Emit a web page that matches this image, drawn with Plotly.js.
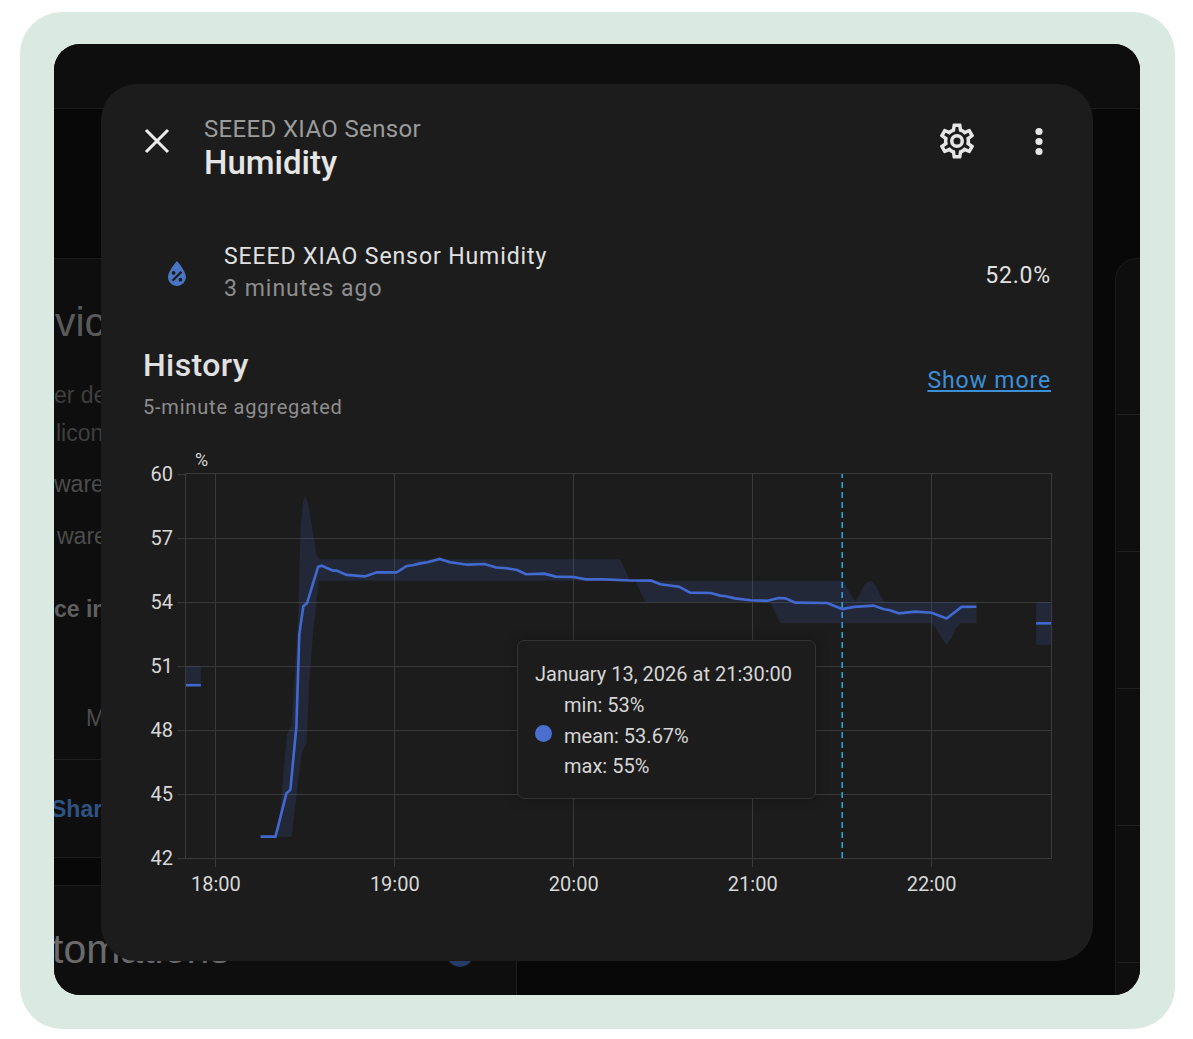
<!DOCTYPE html>
<html>
<head>
<meta charset="utf-8">
<script src="https://cdn.plot.ly/plotly-3.0.1.min.js"></script>
<style>
html,body{margin:0;padding:0;background:#fff;width:1193px;height:1039px;overflow:hidden;font-family:Roboto,sans-serif}
.abs{position:absolute;white-space:nowrap}
#outer{position:absolute;left:20px;top:12px;width:1155px;height:1017px;background:#dbe9e3;border-radius:42px}
#inner{position:absolute;left:54px;top:44px;width:1086px;height:951px;background:#080808;border-radius:26px;overflow:hidden}
.card{position:absolute;background:#0e0e0e;border:1px solid #1b1b1b;box-sizing:border-box}
.rule{position:absolute;background:#1f1f1f;height:1px}
.bg{position:absolute;white-space:nowrap;font-family:"Liberation Sans",Arial,sans-serif;line-height:1}
#dialog{position:absolute;left:101px;top:84px;width:992px;height:877px;background:#1c1c1c;border-radius:36px}
#chart{position:absolute;left:0;top:0;width:1193px;height:1039px}
#tip{position:absolute;left:517px;top:640px;width:299px;height:159px;box-sizing:border-box;background:#1c1c1c;border:1px solid #333;border-radius:7px;box-shadow:0 0 14px rgba(0,0,0,.28);color:#d6d6d6;font-size:20px}
#tip div{position:absolute;white-space:nowrap;line-height:1}
</style>
</head>
<body>
<div id="outer"></div>
<div id="inner">
  <div class="card" style="left:-2px;top:-2px;width:1090px;height:67px;border-width:0 0 1px 0"></div>
  <div class="card" style="left:-20px;top:214px;width:480px;height:600px"></div>
  <div class="rule" style="left:0;top:715px;width:460px"></div>
  <div class="card" style="left:-20px;top:841px;width:483px;height:140px"></div>
  <div class="card" style="left:1061px;top:214px;width:60px;height:760px;border-radius:22px 0 0 0"></div>
  <div class="rule" style="left:1063px;top:370px;width:23px"></div>
  <div class="rule" style="left:1063px;top:507px;width:23px"></div>
  <div class="rule" style="left:1063px;top:644px;width:23px"></div>
  <div class="rule" style="left:1063px;top:781px;width:23px"></div>
  <div class="rule" style="left:1063px;top:918px;width:23px"></div>
  <div class="bg" style="left:1px;top:258px;font-size:41px;color:#5a5a5a">vic</div>
  <div class="bg" style="left:0;top:340px;font-size:23px;color:#3f3f3f">er de</div>
  <div class="bg" style="left:2px;top:378px;font-size:23px;color:#3f3f3f">licon</div>
  <div class="bg" style="left:0;top:429px;font-size:23px;color:#4c4c4c">ware</div>
  <div class="bg" style="left:3px;top:481px;font-size:23px;color:#4c4c4c">ware</div>
  <div class="bg" style="left:0;top:554px;font-size:23px;font-weight:700;color:#5f5f5f">ce in</div>
  <div class="bg" style="left:32px;top:663px;font-size:23px;color:#4c4c4c">M</div>
  <div class="bg" style="left:-3px;top:754px;font-size:23px;font-weight:700;color:#2f5283">Share</div>
  <div class="bg" style="left:-2px;top:885px;font-size:41px;color:#6a6a6a">tomations</div>
  <div style="position:absolute;left:392px;top:893px;width:28px;height:30px;border-radius:50%;background:#263a66"></div>
  <div class="rule" style="left:462px;top:917px;width:1px;height:40px"></div>
</div>
<div id="dialog"></div>

<svg class="abs" style="left:141px;top:125px" width="32" height="32" viewBox="0 0 32 32"><path d="M5 5L27 27M27 5L5 27" stroke="#ececec" stroke-width="3.1" fill="none"/></svg>
<div class="abs" id="t1" style="left:204px;top:114px;font-size:24px;line-height:30px;letter-spacing:.35px;color:#9b9b9b">SEEED XIAO Sensor</div>
<div class="abs" id="t2" style="left:204px;top:143px;font-size:33px;line-height:40px;font-weight:500;color:#e6e6e6">Humidity</div>
<svg class="abs" style="left:936px;top:120px" width="42" height="42" viewBox="0 0 24 24"><path fill="#e6e6e6" d="M12,8A4,4 0 0,1 16,12A4,4 0 0,1 12,16A4,4 0 0,1 8,12A4,4 0 0,1 12,8M12,10A2,2 0 0,0 10,12A2,2 0 0,0 12,14A2,2 0 0,0 14,12A2,2 0 0,0 12,10M10,22C9.75,22 9.54,21.82 9.5,21.58L9.13,18.93C8.5,18.68 7.96,18.34 7.44,17.94L4.95,18.95C4.73,19.03 4.46,18.95 4.34,18.73L2.34,15.27C2.21,15.05 2.27,14.78 2.46,14.63L4.57,12.97L4.5,12L4.57,11L2.46,9.37C2.27,9.22 2.21,8.95 2.34,8.73L4.34,5.27C4.46,5.05 4.73,4.96 4.95,5.05L7.44,6.05C7.96,5.66 8.5,5.32 9.13,5.07L9.5,2.42C9.54,2.18 9.75,2 10,2H14C14.25,2 14.46,2.18 14.5,2.42L14.87,5.07C15.5,5.32 16.04,5.66 16.56,6.05L19.05,5.05C19.27,4.96 19.54,5.05 19.66,5.27L21.66,8.73C21.79,8.95 21.73,9.22 21.54,9.37L19.43,11L19.5,12L19.43,13L21.54,14.63C21.73,14.78 21.79,15.05 21.66,15.27L19.66,18.73C19.54,18.95 19.27,19.04 19.05,18.95L16.56,17.95C16.04,18.34 15.5,18.68 14.87,18.93L14.5,21.58C14.46,21.82 14.25,22 14,22H10M11.25,4L10.88,6.61C9.68,6.86 8.62,7.5 7.85,8.39L5.44,7.35L4.69,8.65L6.8,10.2C6.4,11.37 6.4,12.64 6.8,13.8L4.68,15.36L5.43,16.66L7.86,15.62C8.63,16.5 9.68,17.14 10.87,17.38L11.24,20H12.76L13.13,17.39C14.32,17.14 15.37,16.5 16.14,15.62L18.57,16.66L19.32,15.36L17.2,13.81C17.6,12.64 17.6,11.37 17.2,10.2L19.31,8.65L18.56,7.35L16.15,8.39C15.38,7.5 14.32,6.86 13.12,6.62L12.75,4H11.25Z"/></svg>
<svg class="abs" style="left:1029px;top:125px" width="20" height="34" viewBox="0 0 20 34"><circle cx="10" cy="6.5" r="3.6" fill="#e6e6e6"/><circle cx="10" cy="16.5" r="3.6" fill="#e6e6e6"/><circle cx="10" cy="26.5" r="3.6" fill="#e6e6e6"/></svg>
<svg class="abs" style="left:159px;top:256px" width="36" height="36" viewBox="0 0 24 24"><path fill="#4a74c4" d="M12,3.25C12,3.25 6,10 6,14C6,17.32 8.69,20 12,20A6,6 0 0,0 18,14C18,10 12,3.25 12,3.25M14.47,9.97L15.53,11.03L9.53,17.03L8.47,15.97M9.75,10A1.25,1.25 0 0,1 11,11.25A1.25,1.25 0 0,1 9.75,12.5A1.25,1.25 0 0,1 8.5,11.25A1.25,1.25 0 0,1 9.75,10M14.25,14.5A1.25,1.25 0 0,1 15.5,15.75A1.25,1.25 0 0,1 14.25,17A1.25,1.25 0 0,1 13,15.75A1.25,1.25 0 0,1 14.25,14.5Z"/></svg>
<div class="abs" id="t3" style="left:224px;top:242px;font-size:23px;line-height:30px;letter-spacing:.9px;color:#e1e1e1">SEEED XIAO Sensor Humidity</div>
<div class="abs" id="t4" style="left:224px;top:274px;font-size:23px;line-height:30px;letter-spacing:1px;color:#8e8e8e">3 minutes ago</div>
<div class="abs" id="t5" style="right:142px;top:261px;font-size:23px;line-height:30px;letter-spacing:.8px;color:#e1e1e1">52.0%</div>
<div class="abs" id="t6" style="left:143px;top:345px;font-size:32px;line-height:40px;font-weight:500;letter-spacing:.4px;color:#e1e1e1">History</div>
<div class="abs" id="t7" style="right:142px;top:366px;font-size:23px;line-height:30px;letter-spacing:.9px;color:#3d8fd6;text-decoration:underline">Show more</div>
<div class="abs" id="t8" style="left:143px;top:393px;font-size:20px;line-height:28px;letter-spacing:.8px;color:#8e8e8e">5-minute aggregated</div>

<div id="chart"></div>

<div id="tip">
  <div style="left:17px;top:23px">January 13, 2026 at 21:30:00</div>
  <div style="left:46px;top:54px">min: 53%</div>
  <div style="left:17px;top:84px;width:17px;height:17px;border-radius:50%;background:#4a6fd0"></div>
  <div style="left:46px;top:85px">mean: 53.67%</div>
  <div style="left:46px;top:115px">max: 55%</div>
</div>

<script>
// All values. Clock times on 2026-01-13, humidity in %.
const day = "2026-01-13 ";
const axisStart = "17:50:00";
const axisEnd = "22:40:00";
const yTicks = [42, 45, 48, 51, 54, 57, 60];
const xTicks = ["18:00:00", "19:00:00", "20:00:00", "21:00:00", "22:00:00"];
const xTickLabels = ["18:00", "19:00", "20:00", "21:00", "22:00"];
const hoverTime = "21:30:00";
const unitLabel = "%";

const leadTimes = ["17:50:00", "17:55:00"];
const leadMin = [50.1, 50.1];
const leadMean = [50.1, 50.1];
const leadMax = [51, 51];

const tailTimes = ["22:35:00", "22:40:00"];
const tailMin = [52, 52];
const tailMean = [53, 53];
const tailMax = [54, 54];

const mainMeanTimes = ["18:15:00","18:20:00","18:23:40","18:25:00","18:27:00","18:27:36","18:28:00","18:29:20","18:30:36","18:32:00","18:34:18","18:35:30","18:39:18","18:40:30","18:43:54","18:50:00","18:54:00","19:00:36","19:04:00","19:06:00","19:08:30","19:11:00","19:15:00","19:18:30","19:20:48","19:24:24","19:30:00","19:34:00","19:37:30","19:41:00","19:44:00","19:50:00","19:54:00","20:00:00","20:04:00","20:10:00","20:19:00","20:26:00","20:29:00","20:35:18","20:39:00","20:46:00","20:49:00","20:51:00","20:54:00","20:59:18","21:05:00","21:08:36","21:11:00","21:14:18","21:25:00","21:30:00","21:34:00","21:40:30","21:44:00","21:46:00","21:49:00","21:54:30","22:00:00","22:05:00","22:10:00","22:15:00"];
const mainMean = [43,43,45.03,45.2,48.15,51,52.5,53.8,53.95,54.6,55.65,55.7,55.47,55.47,55.27,55.2,55.39,55.39,55.69,55.72,55.81,55.86,56.02,55.86,55.83,55.75,55.78,55.62,55.58,55.5,55.3,55.33,55.19,55.17,55.06,55.06,55.01,55,54.83,54.72,54.44,54.42,54.3,54.27,54.17,54.08,54.06,54.19,54.17,53.97,53.95,53.67,53.77,53.83,53.66,53.61,53.47,53.55,53.5,53.23,53.77,53.78];

const mainMaxTimes = ["18:15:00","18:20:48","18:22:00","18:23:50","18:25:24","18:27:30","18:28:25","18:29:10","18:29:52","18:31:00","18:32:38","18:33:48","18:34:54","20:15:34","20:18:40","20:19:35","21:30:24","21:32:10","21:34:20","21:36:00","21:37:40","21:39:30","21:41:10","21:42:50","21:44:10","22:15:00"];
const mainMax = [43,43,44.9,47.8,48.2,53,57.5,58.6,59,58.6,57.2,56.2,56,56,55.05,55,55,54.5,54.05,54.4,54.85,55,54.8,54.3,54,54];

const mainMinTimes = ["18:15:00","18:25:24","18:27:05","18:28:46","18:30:25","18:31:18","18:32:33","18:34:34","20:20:36","20:24:00","21:05:54","21:09:16","22:00:00","22:01:20","22:03:20","22:05:00","22:06:40","22:08:00","22:09:40","22:15:00"];
const mainMin = [43,43,45,46.9,47.4,50.2,52.5,55,55,54,54,53,53,52.8,52.3,52,52.3,52.75,53,53];

const lineColor = "#4269d0";
const bandColor = "rgba(66,105,208,0.16)";
const gridColor = "#3a3a3a";
const stamp = t => day + t;

function band(times, lo, hiTimes, hi) {
  return [
    {x: times.map(stamp), y: lo, mode: "lines", line: {width: 0}, hoverinfo: "skip", showlegend: false},
    {x: hiTimes.map(stamp), y: hi, mode: "lines", line: {width: 0}, fill: "tonexty", fillcolor: bandColor, hoverinfo: "skip", showlegend: false}
  ];
}
function mean(times, vals) {
  return {x: times.map(stamp), y: vals, mode: "lines", line: {color: lineColor, width: 2.6}, showlegend: false};
}

const traces = [
  ...band(leadTimes, leadMin, leadTimes, leadMax),
  ...band(mainMinTimes, mainMin, mainMaxTimes, mainMax),
  ...band(tailTimes, tailMin, tailTimes, tailMax),
  mean(leadTimes, leadMean),
  mean(mainMeanTimes, mainMean),
  mean(tailTimes, tailMean)
];

const layout = {
  width: 1193, height: 1039,
  margin: {l: 186, r: 142, t: 474, b: 181, pad: 0},
  paper_bgcolor: "rgba(0,0,0,0)", plot_bgcolor: "rgba(0,0,0,0)",
  font: {family: "Roboto, sans-serif", size: 20, color: "#d8d8d8"},
  showlegend: false,
  xaxis: {
    type: "date", range: [stamp(axisStart), stamp(axisEnd)],
    tickmode: "array", tickvals: xTicks.map(stamp), ticktext: xTickLabels,
    ticks: "outside", ticklen: 8, tickwidth: 1, tickcolor: gridColor,
    showgrid: true, gridcolor: gridColor, gridwidth: 1, zeroline: false,
    showline: true, linecolor: gridColor, linewidth: 1, mirror: true,
    tickfont: {size: 20, color: "#d8d8d8"}
  },
  yaxis: {
    range: [42, 60], tickmode: "array", tickvals: yTicks,
    ticks: "outside", ticklen: 8, tickwidth: 1, tickcolor: gridColor,
    showgrid: true, gridcolor: gridColor, gridwidth: 1, zeroline: false,
    showline: true, linecolor: gridColor, linewidth: 1, mirror: true,
    tickfont: {size: 20, color: "#d8d8d8"}
  },
  shapes: [{
    type: "line", xref: "x", yref: "paper",
    x0: stamp(hoverTime), x1: stamp(hoverTime), y0: 0, y1: 1,
    line: {color: "#2f9ddb", width: 1.6, dash: "6px,4px"}
  }],
  annotations: [{
    xref: "paper", yref: "paper", x: 0.008, y: 1, xanchor: "left", yanchor: "bottom", yshift: 2,
    text: unitLabel, showarrow: false, font: {size: 18, color: "#d8d8d8"}
  }]
};
Plotly.newPlot("chart", traces, layout, {displayModeBar: false, staticPlot: true});
</script>
</body>
</html>
